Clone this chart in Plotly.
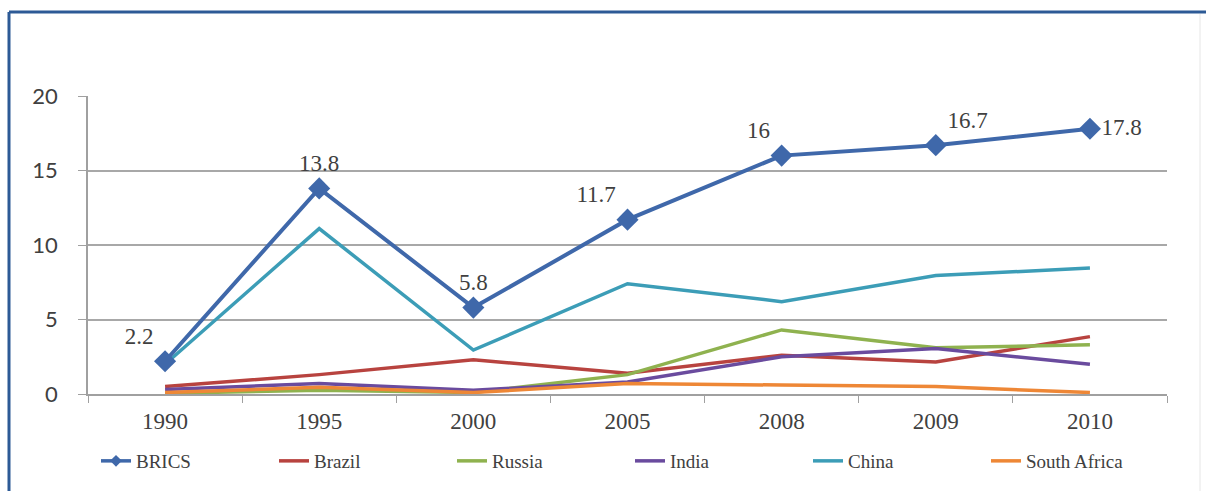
import plotly.graph_objects as go

years = ["1990", "1995", "2000", "2005", "2008", "2009", "2010"]
brics = [2.2, 13.8, 5.8, 11.7, 16, 16.7, 17.8]
brazil = [0.5, 1.3, 2.3, 1.4, 2.6, 2.15, 3.85]
russia = [0.05, 0.25, 0.1, 1.3, 4.3, 3.1, 3.3]
india = [0.3, 0.7, 0.25, 0.8, 2.5, 3.05, 2.0]
china = [2.0, 11.1, 2.95, 7.4, 6.2, 7.95, 8.45]
south_africa = [0.1, 0.45, 0.1, 0.7, 0.6, 0.5, 0.1]
brics_labels = ["2.2", "13.8", "5.8", "11.7", "16", "16.7", "17.8"]
label_pos = ["top left", "top center", "top center", "top left", "top left", "top right", "middle right"]

W, H = 1206, 491
L, R, T, B = 88, 1167, 96, 394

def px(x):
    return (x - L) / (R - L)

def py(y):
    return (B - y) / (B - T)

BLUE = "#3F68AA"
SERIF = "Liberation Serif"
others = [
    ("Brazil", brazil, "#B8433F"),
    ("Russia", russia, "#8FB24F"),
    ("India", india, "#6A4B9E"),
    ("China", china, "#3C9DB7"),
    ("South Africa", south_africa, "#EE8736"),
]

fig = go.Figure()

# legend-only entry for BRICS (small marker as in the original legend)
fig.add_trace(go.Scatter(
    x=[None], y=[None], name="BRICS", mode="lines+markers",
    line=dict(color=BLUE, width=3.5),
    marker=dict(symbol="diamond", size=9, color=BLUE),
    legendrank=1,
))
for i, (name, vals, col) in enumerate(others):
    fig.add_trace(go.Scatter(
        x=years, y=vals, name=name, mode="lines",
        line=dict(color=col, width=3.5),
        cliponaxis=False, legendrank=2 + i,
    ))
fig.add_trace(go.Scatter(
    x=years, y=brics, name="BRICS", mode="lines+markers+text",
    line=dict(color=BLUE, width=4),
    marker=dict(symbol="diamond", size=17, color=BLUE),
    text=brics_labels, textposition=label_pos,
    textfont=dict(family=SERIF, size=23, color="#404040"),
    cliponaxis=False, showlegend=False,
))

fig.update_layout(
    width=W, height=H,
    margin=dict(l=L, r=W - R, t=T, b=H - B, autoexpand=False),
    paper_bgcolor="white", plot_bgcolor="white",
    showlegend=True,
    legend=dict(
        orientation="h", x=px(96), xanchor="left", y=py(461), yanchor="middle",
        font=dict(family=SERIF, size=19, color="#404040"),
        entrywidth=133, entrywidthmode="pixels",
        traceorder="normal",
    ),
    xaxis=dict(
        type="category", categoryorder="array", categoryarray=years,
        range=[-0.5, len(years) - 0.5],
        showline=True, linecolor="#A0A0A0", linewidth=1.5,
        ticks="outside", tickson="boundaries", ticklen=7, tickcolor="#A0A0A0",
        tickfont=dict(family=SERIF, size=23, color="#404040"),
        showgrid=False, ticklabelstandoff=6,
    ),
    yaxis=dict(
        range=[0, 20], tickvals=[0, 5, 10, 15, 20],
        showline=True, linecolor="#A0A0A0", linewidth=1.5,
        ticks="outside", ticklen=8, tickcolor="#A0A0A0",
        showgrid=True, gridcolor="#A8A8A8", gridwidth=1.5,
        tickfont=dict(family="Lato", size=22, color="#404040"),
        zeroline=False, ticklabelstandoff=16,
    ),
    shapes=[
        dict(type="line", xref="paper", yref="paper", x0=px(9), x1=px(1215), y0=py(12), y1=py(12),
             line=dict(color="#2D5A96", width=3)),
        dict(type="line", xref="paper", yref="paper", x0=px(9), x1=px(9), y0=py(12), y1=py(500),
             line=dict(color="#2D5A96", width=3)),
        dict(type="line", xref="paper", yref="paper", x0=px(1200), x1=px(1200), y0=py(14), y1=py(500),
             line=dict(color="#E6E6E6", width=1)),
    ],
)

fig.write_html(
    "out.html",
    config={"displayModeBar": False},
    post_script="document.body.style.margin='0';document.body.style.overflow='hidden';",
)
